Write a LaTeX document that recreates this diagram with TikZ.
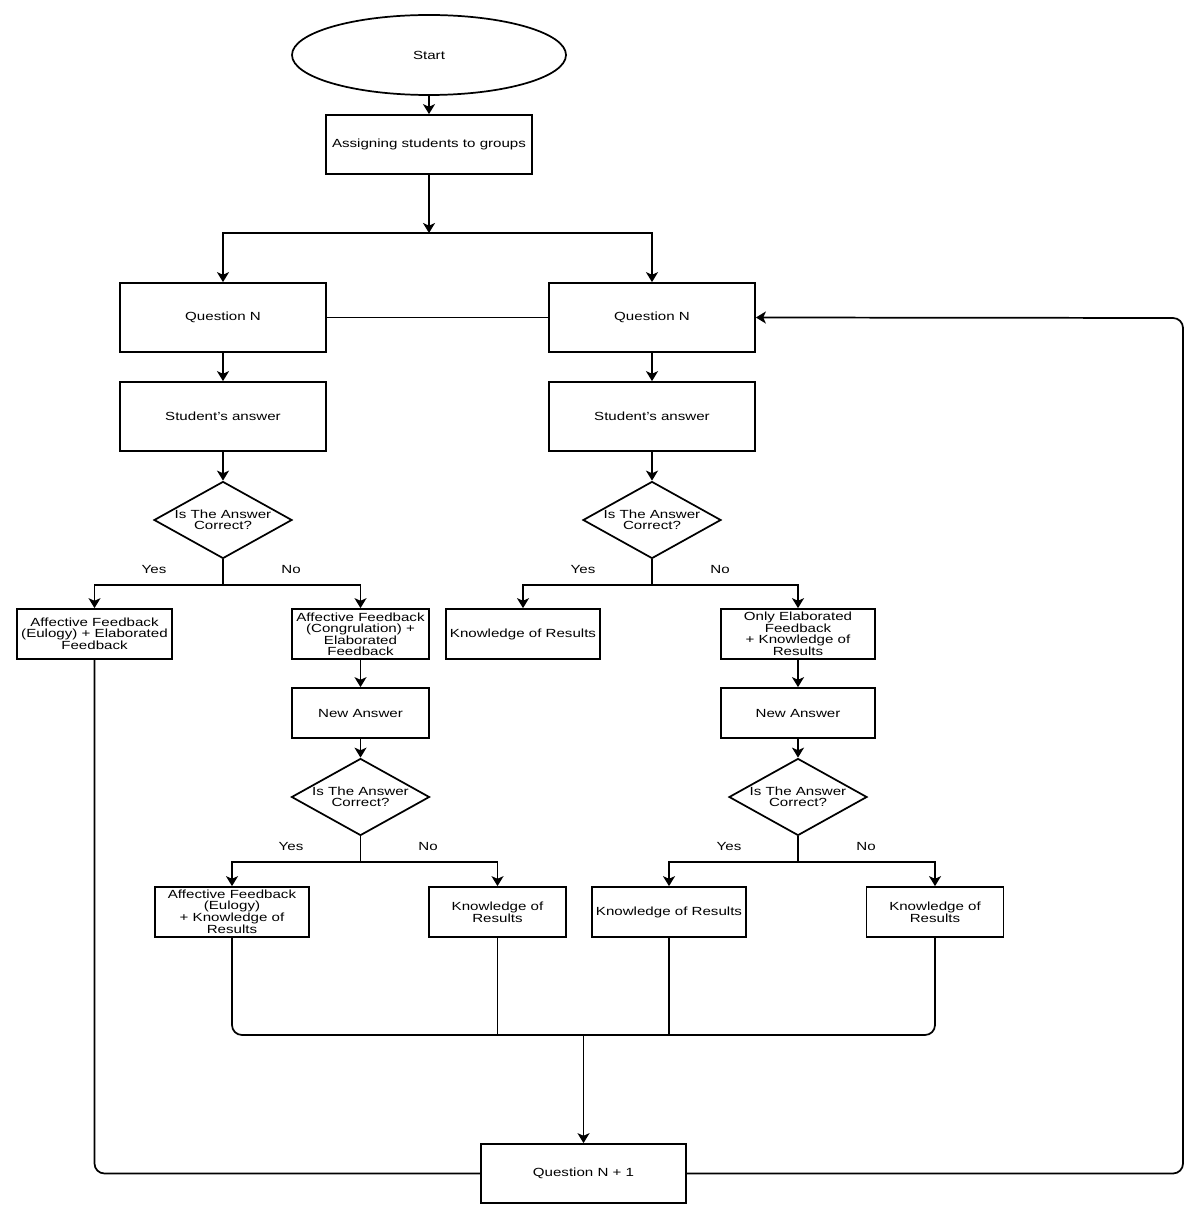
\documentclass[tikz,border=0pt]{standalone}
\usepackage{fontspec}
\setmainfont{Liberation Sans}[FakeStretch=1.28]
\usetikzlibrary{shapes.geometric,arrows.meta}
\begin{document}
\begin{tikzpicture}[x=0.75pt,y=-0.75pt,
  font=\fontsize{8.85}{8.1}\selectfont,
  every path/.style={line width=1.3pt},
  bx/.style 2 args={draw, line width=1.3pt, align=center, inner sep=0pt,
    minimum width=#1*0.75pt, minimum height=#2*0.75pt},
  dia/.style={draw, diamond, line width=1.3pt, align=center, inner sep=0pt, aspect=1.8,
    minimum width=138*0.75pt, minimum height=77*0.75pt},
  arr/.style={-{Stealth[length=7.5pt,width=9pt,inset=2pt]}},
  rc/.style={rounded corners=7.5pt},
  lbl/.style={inner sep=0pt}
]
\useasboundingbox[fill=white] (0,0) rectangle (1200,1219);

\node[draw, ellipse, line width=1.3pt, minimum width=274*0.75pt, minimum height=80*0.75pt, inner sep=0pt] (start) at (429,55) {Start};
\node[bx={206}{59}] (assign) at (429,144.5) {Assigning students to groups};

\node[bx={206}{69}] (qL) at (223,317.5) {Question N};
\node[bx={206}{69}] (qR) at (652,317.5) {Question N};
\node[bx={206}{69}] (saL) at (223,416.5) {Student's answer};
\node[bx={206}{69}] (saR) at (652,416.5) {Student's answer};
\node[dia] (dL) at (223,520) {Is The Answer\\Correct?};
\node[dia] (dR) at (652,520) {Is The Answer\\Correct?};

\node[bx={155}{50}] (fbL1) at (94.5,634) {Affective Feedback\\(Eulogy) + Elaborated\\Feedback};
\node[bx={137}{50}] (fbL2) at (360.5,634) {Affective Feedback\\(Congrulation) +\\Elaborated\\Feedback};
\node[bx={154}{50}] (fbR1) at (523,634) {Knowledge of Results};
\node[bx={154}{50}] (fbR2) at (798,634) {Only Elaborated\\Feedback\\+ Knowledge of\\Results};

\node[bx={137}{50}] (naL) at (360.5,713) {New Answer};
\node[bx={154}{50}] (naR) at (798,713) {New Answer};
\node[dia] (d2L) at (360.5,797) {Is The Answer\\Correct?};
\node[dia] (d2R) at (798,797) {Is The Answer\\Correct?};

\node[bx={154}{50}] (kL1) at (232,912) {Affective Feedback\\(Eulogy)\\+ Knowledge of\\Results};
\node[bx={137}{50}] (kL2) at (497.5,912) {Knowledge of\\Results};
\node[bx={154}{50}] (kR1) at (669,912) {Knowledge of Results};
\node[bx={137}{50}] (kR2) at (935,912) {Knowledge of\\Results};

\node[bx={205}{59}] (qN1) at (583.5,1173.5) {Question N + 1};

\node[lbl] (yes1) at (154,569) {Yes};
\node[lbl] (no1) at (291,569) {No};
\node[lbl] (yes2) at (583,569) {Yes};
\node[lbl] (no2) at (720,569) {No};
\node[lbl] (yes3) at (291,846) {Yes};
\node[lbl] (no3) at (428,846) {No};
\node[lbl] (yes4) at (729,846) {Yes};
\node[lbl] (no4) at (866,846) {No};

\coordinate (split) at (429,233);
\coordinate (j1) at (223,585);
\coordinate (j2) at (652,585);
\coordinate (j3) at (360.5,862);
\coordinate (j4) at (798,862);
\coordinate (m) at (583.5,1035);
\coordinate (rt) at (1183,318);

\draw[arr] (start) -- (assign);
\draw[arr] (assign) -- (split);
\draw[arr] (split) -| (qL);
\draw[arr] (split) -| (qR);
\draw (qL) -- (qR);
\draw[arr] (qL) -- (saL);
\draw[arr] (qR) -- (saR);
\draw[arr] (saL) -- (dL);
\draw[arr] (saR) -- (dR);

\draw[arr] (dL) -- (j1) -| (fbL1);
\draw[arr] (j1) -| (fbL2);
\draw[arr] (dR) -- (j2) -| (fbR1);
\draw[arr] (j2) -| (fbR2);

\draw[arr] (fbL2) -- (naL);
\draw[arr] (fbR2) -- (naR);
\draw[arr] (naL) -- (d2L);
\draw[arr] (naR) -- (d2R);

\draw[arr] (d2L) -- (j3) -| (kL1);
\draw[arr] (j3) -| (kL2);
\draw[arr] (d2R) -- (j4) -| (kR1);
\draw[arr] (j4) -| (kR2);

\draw[rc] (kL1.south) |- (m) -| (kR2.south);
\draw (kL2.south) -- (kL2.south |- m);
\draw (kR1.south) -- (kR1.south |- m);
\draw[arr] (m) -- (qN1);

\draw[rc] (fbL1.south) |- (qN1.west);
\draw[rc,arr] (qN1.east) -| (rt) -- (qR.east);
\end{tikzpicture}
\end{document}
